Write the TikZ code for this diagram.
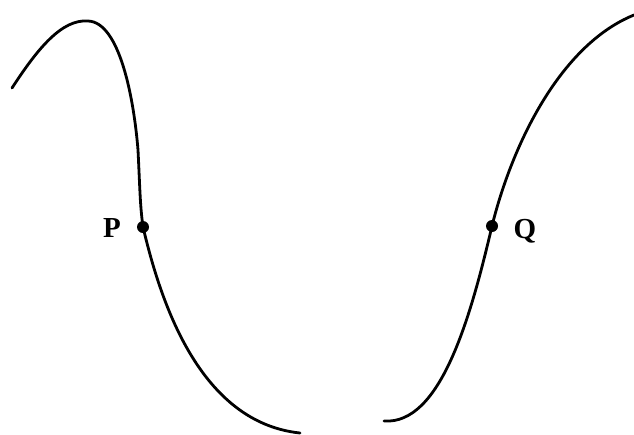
\documentclass[tikz,border=0pt]{standalone}
\usepackage{fontspec}
\setmainfont{Liberation Serif}
\begin{document}
\begin{tikzpicture}[x=1pt,y=-1pt,
  curve/.style={line width=2.8pt,line cap=round},
  dot/.style={circle,fill=black,inner sep=0pt,minimum size=12pt},
  lbl/.style={font=\fontsize{29}{33}\selectfont\bfseries,inner sep=0pt}]
\useasboundingbox (0,0) rectangle (634,434);
\coordinate (a0) at (12,88);
\coordinate (a1) at (88,21);
\coordinate (a2) at (138,150);
\node[dot] (P) at (143,227) {};
\coordinate (a3) at (300,433);
\draw[curve] (a0) .. controls (38,48) and (62,19) .. (a1)
  .. controls (120,22) and (134,100) .. (a2)
  .. controls (140,190) and (140,205) .. (P.center)
  .. controls (158,290) and (195,422) .. (a3);
\coordinate (b0) at (384,421);
\node[dot] (Q) at (492,226) {};
\coordinate (b1) at (634,15);
\draw[curve] (b0) .. controls (440,425) and (470,320) .. (Q.center)
  .. controls (512,145) and (560,45) .. (b1);
\node[lbl] (Pl) at (112,228) {P};
\node[lbl] (Ql) at (525,231) {Q};
\end{tikzpicture}
\end{document}
